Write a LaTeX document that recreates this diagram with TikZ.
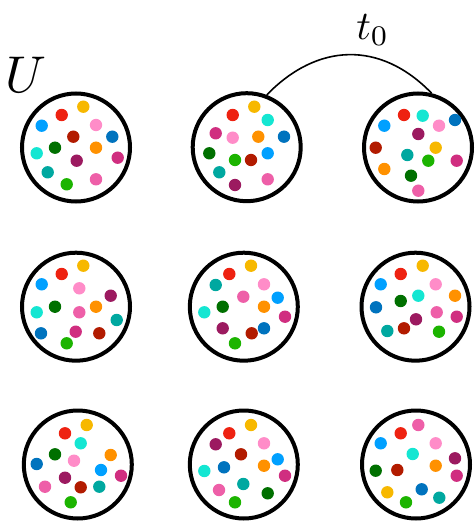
\documentclass[tikz,border=0pt]{standalone}
\usetikzlibrary{calc}
\definecolor{cYel}{RGB}{247,184,0}
\definecolor{cRed}{RGB}{238,34,17}
\definecolor{cLBl}{RGB}{0,160,255}
\definecolor{cLPk}{RGB}{255,140,200}
\definecolor{cDRd}{RGB}{178,27,0}
\definecolor{cDBl}{RGB}{0,115,190}
\definecolor{cDGr}{RGB}{0,112,0}
\definecolor{cOrg}{RGB}{255,145,0}
\definecolor{cCyn}{RGB}{20,230,210}
\definecolor{cPur}{RGB}{156,26,96}
\definecolor{cMag}{RGB}{208,46,128}
\definecolor{cTel}{RGB}{0,168,160}
\definecolor{cGrn}{RGB}{28,180,0}
\definecolor{cHPk}{RGB}{238,95,168}
\tikzset{
  bigc/.style={circle, draw=black, line width=4pt, minimum size=108pt, inner sep=0pt, fill=white},
  arcline/.style={draw=black, line width=1.6pt},
  lbl/.style={anchor=base west, inner sep=0pt, font=\fontsize{10}{12}\selectfont},
}
\newcommand{\dotat}[3]{\fill[#1] (#2,#3) circle (6.2);}
\begin{document}
\begin{tikzpicture}[x=1pt,y=-1pt]
\useasboundingbox (0,0) rectangle (474,521);
% circles
\node[bigc] (c1) at (76,147.5) {};
\node[bigc] (c2) at (246.7,147.2) {};
\node[bigc] (c3) at (418,147.5) {};
\node[bigc] (c4) at (76,306.7) {};
\node[bigc] (c5) at (243.8,306.7) {};
\node[bigc] (c6) at (415.5,306.7) {};
\node[bigc] (c7) at (77.8,464.5) {};
\node[bigc] (c8) at (243.8,464.5) {};
\node[bigc] (c9) at (416,464.5) {};
% labels
\node[lbl, scale=5.17] (lu) at (4,92.5) {$U$};
\node[lbl, scale=4.06] (lt) at (355.5,39.5) {$t_0$};
% arc
\draw[arcline] (c2.69) .. controls (317,43) and (380,40) .. (c3.76);
% circle 1
\dotat{cYel}{83.3}{106.7}
\dotat{cRed}{61.7}{115}
\dotat{cLBl}{41.7}{125.7}
\dotat{cLPk}{96}{125}
\dotat{cDRd}{73.3}{136.7}
\dotat{cDBl}{112.3}{136.7}
\dotat{cDGr}{55}{147.7}
\dotat{cOrg}{96}{147.7}
\dotat{cCyn}{36.7}{153.3}
\dotat{cPur}{76.7}{160.7}
\dotat{cMag}{117.7}{157.7}
\dotat{cTel}{47.7}{172.3}
\dotat{cGrn}{66.7}{184.3}
\dotat{cHPk}{96}{179.3}
% circle 2
\dotat{cYel}{254.3}{106.7}
\dotat{cRed}{232.7}{115}
\dotat{cCyn}{267.7}{120}
\dotat{cMag}{215.7}{133.3}
\dotat{cLPk}{232.7}{137.7}
\dotat{cOrg}{258.3}{136.7}
\dotat{cDBl}{284}{136.7}
\dotat{cDGr}{209.3}{153.3}
\dotat{cLBl}{267.7}{153.3}
\dotat{cGrn}{235}{160}
\dotat{cDRd}{251}{160}
\dotat{cTel}{219.3}{172.3}
\dotat{cPur}{235}{185}
\dotat{cHPk}{267.7}{179.3}
% circle 3
\dotat{cRed}{404}{115}
\dotat{cCyn}{422.7}{115.7}
\dotat{cDBl}{455}{120}
\dotat{cLBl}{384.3}{125.7}
\dotat{cLPk}{439}{125.7}
\dotat{cPur}{418.3}{134}
\dotat{cDRd}{375.7}{147.7}
\dotat{cYel}{435.7}{147.7}
\dotat{cTel}{407.3}{155}
\dotat{cGrn}{428.3}{160.7}
\dotat{cMag}{456.7}{160.7}
\dotat{cOrg}{384.3}{169}
\dotat{cDGr}{411}{175.7}
\dotat{cHPk}{418.3}{190.7}
% circle 4
\dotat{cYel}{83.3}{265.7}
\dotat{cRed}{61.7}{274}
\dotat{cLBl}{41.7}{284.3}
\dotat{cLPk}{79.3}{288.3}
\dotat{cPur}{110.7}{295.7}
\dotat{cDGr}{55}{306.7}
\dotat{cOrg}{96}{306.7}
\dotat{cCyn}{36.7}{312.3}
\dotat{cHPk}{79.3}{312.3}
\dotat{cTel}{116.7}{320}
\dotat{cDBl}{41}{333.3}
\dotat{cMag}{75.7}{331.7}
\dotat{cDRd}{99.3}{333.3}
\dotat{cGrn}{66.7}{343.3}
% circle 5
\dotat{cYel}{251}{265.7}
\dotat{cRed}{229.3}{274}
\dotat{cTel}{215.7}{285}
\dotat{cLPk}{264}{284.3}
\dotat{cHPk}{243.3}{296.7}
\dotat{cLBl}{277.7}{297.7}
\dotat{cDGr}{222.7}{306.7}
\dotat{cOrg}{264}{306.7}
\dotat{cCyn}{204.3}{312.3}
\dotat{cMag}{285}{316.7}
\dotat{cPur}{222.7}{328.3}
\dotat{cDBl}{264}{328.3}
\dotat{cDRd}{251.7}{333.3}
\dotat{cGrn}{235}{343.3}
% circle 6
\dotat{cYel}{422.7}{265.7}
\dotat{cRed}{400.7}{274}
\dotat{cLBl}{380.7}{284.3}
\dotat{cLPk}{435.7}{284.3}
\dotat{cOrg}{455}{295.7}
\dotat{cCyn}{418.3}{295.7}
\dotat{cDGr}{400.7}{301}
\dotat{cDBl}{376}{307.3}
\dotat{cHPk}{436.7}{312.3}
\dotat{cMag}{456.7}{316.7}
\dotat{cPur}{416}{319.3}
\dotat{cDRd}{404}{328.3}
\dotat{cTel}{387.3}{331}
\dotat{cGrn}{439}{331.7}
% circle 7
\dotat{cYel}{86.7}{425}
\dotat{cRed}{65}{433.3}
\dotat{cCyn}{80.7}{443.3}
\dotat{cDGr}{55}{454.3}
\dotat{cOrg}{110.7}{455}
\dotat{cLPk}{74}{460.7}
\dotat{cDBl}{36.7}{464}
\dotat{cLBl}{101}{470}
\dotat{cMag}{121}{475.7}
\dotat{cPur}{65}{477.7}
\dotat{cHPk}{45}{486.7}
\dotat{cDRd}{80.7}{487.3}
\dotat{cTel}{99.3}{486.7}
\dotat{cGrn}{70.7}{502.3}
% circle 8
\dotat{cYel}{251}{425}
\dotat{cRed}{229.3}{433.3}
\dotat{cPur}{215.7}{444.3}
\dotat{cLPk}{264}{443.3}
\dotat{cDRd}{241}{454.3}
\dotat{cLBl}{277.7}{459.3}
\dotat{cOrg}{264}{465.7}
\dotat{cDBl}{224}{467.3}
\dotat{cCyn}{204.3}{471}
\dotat{cMag}{285}{475.7}
\dotat{cTel}{243.3}{484}
\dotat{cHPk}{219}{490}
\dotat{cDGr}{267.7}{493.3}
\dotat{cGrn}{235}{502.3}
% circle 9
\dotat{cHPk}{418.3}{425}
\dotat{cRed}{400.7}{433.3}
\dotat{cLBl}{380.7}{443.3}
\dotat{cLPk}{435.7}{443.3}
\dotat{cCyn}{412.7}{454}
\dotat{cPur}{455}{458.3}
\dotat{cOrg}{435.7}{465.7}
\dotat{cDGr}{375.7}{470.7}
\dotat{cDRd}{397.3}{470}
\dotat{cMag}{456.7}{475.7}
\dotat{cDBl}{421.7}{489.3}
\dotat{cYel}{387.3}{492.3}
\dotat{cTel}{439.3}{497.7}
\dotat{cGrn}{406}{502.3}
\end{tikzpicture}
\end{document}
